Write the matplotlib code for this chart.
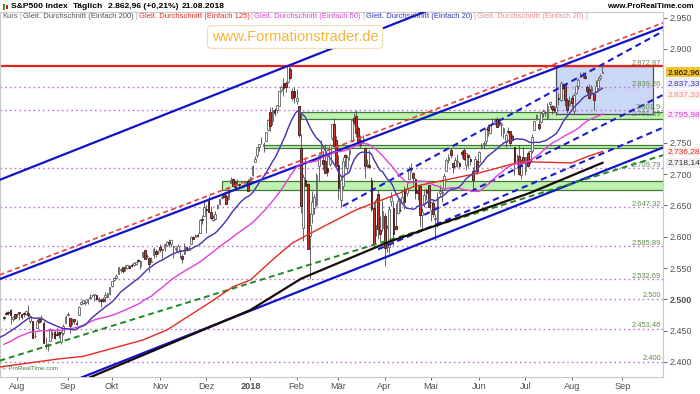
# S&P500 Tageschart mit gleitenden Durchschnitten, Trendkanälen und Zonen

import numpy as np
import pandas as pd
import matplotlib
matplotlib.use('Agg')
import matplotlib.pyplot as plt
import matplotlib.transforms as mtransforms
from matplotlib import font_manager
from matplotlib.patches import Rectangle

# ------------------------------------------------------------------
# Kursdaten (24.07.2017 - 21.08.2018), je Monat eine Zeile
# ------------------------------------------------------------------
opens = [
    2472.0, 2477.9, 2479.9, 2482.8, 2469.1, 2475.9,
    2477.1, 2480.4, 2476.0, 2476.9, 2477.1, 2478.4, 2465.4, 2465.4, 2441.0, 2454.0, 2468.7, 2468.6, 2462.0, 2427.6, 2425.5, 2433.8, 2444.9, 2447.9, 2444.7, 2447.4, 2431.9, 2446.1, 2462.7,
    2474.4, 2470.4, 2463.8, 2468.1, 2462.3, 2474.5, 2491.9, 2493.9, 2494.6, 2495.7, 2502.5, 2506.3, 2506.8, 2507.2, 2497.3, 2499.4, 2501.0, 2503.3, 2503.4, 2509.0,
    2521.2, 2530.3, 2533.5, 2540.9, 2547.4, 2551.4, 2549.9, 2550.6, 2552.9, 2555.7, 2555.6, 2557.2, 2562.9, 2553.4, 2567.6, 2578.1, 2568.7, 2566.5, 2560.1, 2570.3, 2577.8, 2575.0,
    2583.2, 2579.5, 2581.9, 2587.5, 2592.1, 2588.7, 2584.0, 2580.2, 2576.5, 2577.8, 2569.4, 2572.9, 2582.9, 2579.5, 2589.2, 2600.3, 2600.4, 2602.7, 2605.9, 2627.8, 2633.9,
    2645.1, 2657.2, 2639.8, 2626.2, 2628.4, 2646.2, 2652.2, 2661.7, 2667.6, 2665.9, 2660.6, 2685.9, 2692.7, 2688.2, 2683.0, 2684.2, 2679.1, 2682.1, 2686.1, 2689.2,
    2683.7, 2697.9, 2719.3, 2731.3, 2742.7, 2751.2, 2745.6, 2753.0, 2770.2, 2799.0, 2785.0, 2802.4, 2802.6, 2809.2, 2835.1, 2845.4, 2846.2, 2847.5, 2867.2, 2832.7, 2832.4,
    2816.5, 2808.9, 2741.1, 2614.8, 2691.0, 2685.0, 2601.8, 2636.8, 2646.3, 2651.2, 2713.5, 2727.1, 2723.0, 2720.5, 2710.4, 2715.8, 2757.4, 2780.5, 2753.8,
    2715.2, 2658.9, 2681.1, 2730.2, 2710.2, 2732.8, 2752.9, 2790.5, 2792.3, 2774.1, 2754.3, 2750.6, 2741.4, 2715.1, 2715.0, 2691.4, 2646.7, 2619.4, 2667.6, 2611.3, 2614.4,
    2633.5, 2592.2, 2584.0, 2657.4, 2645.8, 2617.2, 2638.4, 2643.0, 2653.8, 2676.9, 2670.1, 2692.7, 2710.1, 2701.2, 2692.6, 2675.4, 2680.8, 2634.9, 2651.7, 2675.5, 2682.7,
    2643.0, 2654.2, 2628.1, 2621.5, 2670.3, 2670.3, 2678.1, 2705.0, 2722.7, 2738.3, 2718.6, 2712.6, 2719.7, 2717.4, 2735.4, 2738.3, 2714.0, 2730.9, 2723.6, 2705.1, 2702.4, 2721.0,
    2718.7, 2741.7, 2748.5, 2753.3, 2774.8, 2765.8, 2780.2, 2785.6, 2787.9, 2783.2, 2777.8, 2765.8, 2752.0, 2769.7, 2769.3, 2760.8, 2742.9, 2722.1, 2728.5, 2698.7, 2727.1,
    2705.0, 2733.3, 2724.2, 2737.7, 2769.8, 2788.6, 2779.8, 2783.1, 2796.9, 2797.4, 2789.3, 2811.4, 2809.4, 2804.6, 2799.2, 2820.7, 2817.7, 2839.3, 2842.4, 2819.0, 2809.7,
    2821.2, 2800.5, 2829.6, 2840.3, 2855.9, 2856.8, 2857.2, 2838.9, 2835.5, 2827.9, 2828.0, 2831.4, 2838.3, 2853.9, 2861.5,
]
highs = [
    2473.1, 2481.2, 2481.7, 2484.0, 2473.5, 2477.0,
    2478.5, 2480.4, 2476.0, 2480.0, 2480.9, 2491.0, 2474.4, 2465.4, 2448.1, 2468.2, 2468.9, 2474.9, 2465.0, 2440.3, 2430.6, 2454.8, 2448.9, 2450.4, 2453.9, 2449.1, 2449.2, 2460.3, 2475.0,
    2480.4, 2471.9, 2469.6, 2468.6, 2467.1, 2488.9, 2496.8, 2498.4, 2498.4, 2500.2, 2508.3, 2507.8, 2508.9, 2507.2, 2503.5, 2502.5, 2503.5, 2511.8, 2510.8, 2519.4,
    2529.2, 2535.1, 2540.5, 2552.5, 2549.4, 2551.8, 2555.2, 2555.2, 2555.3, 2557.6, 2559.5, 2559.7, 2564.1, 2562.4, 2575.4, 2578.3, 2572.2, 2567.4, 2567.1, 2582.9, 2580.0, 2578.3,
    2588.4, 2581.1, 2588.4, 2593.4, 2597.0, 2595.5, 2586.5, 2583.8, 2587.7, 2579.7, 2572.8, 2590.1, 2584.0, 2584.6, 2601.2, 2600.9, 2604.2, 2606.4, 2627.7, 2634.9, 2657.7,
    2650.6, 2665.2, 2648.7, 2634.4, 2640.9, 2651.7, 2660.3, 2669.7, 2671.9, 2668.1, 2679.6, 2695.0, 2694.4, 2691.0, 2692.6, 2685.4, 2682.7, 2685.6, 2687.7, 2692.1,
    2695.9, 2714.4, 2729.3, 2743.5, 2748.5, 2759.1, 2750.8, 2767.6, 2787.9, 2807.5, 2807.0, 2805.8, 2810.3, 2833.0, 2842.2, 2853.0, 2848.6, 2872.9, 2870.6, 2837.8, 2839.3,
    2836.0, 2808.9, 2763.4, 2701.0, 2727.7, 2685.3, 2638.7, 2672.6, 2668.8, 2702.1, 2731.5, 2754.4, 2737.6, 2747.8, 2731.3, 2747.8, 2780.0, 2789.2, 2761.5,
    2730.9, 2696.3, 2728.1, 2732.1, 2730.6, 2740.5, 2786.6, 2797.0, 2801.9, 2777.1, 2763.0, 2761.9, 2741.4, 2724.2, 2739.1, 2695.7, 2657.7, 2661.4, 2674.8, 2632.7, 2659.1,
    2638.3, 2619.1, 2649.9, 2672.1, 2656.9, 2653.6, 2665.5, 2661.4, 2674.7, 2680.3, 2686.5, 2713.3, 2717.5, 2702.8, 2693.9, 2682.9, 2683.6, 2645.3, 2676.5, 2677.4, 2682.9,
    2655.3, 2660.9, 2637.1, 2670.9, 2683.4, 2676.3, 2701.3, 2726.1, 2732.9, 2742.1, 2718.6, 2727.8, 2732.0, 2719.5, 2739.2, 2742.2, 2733.3, 2732.0, 2727.4, 2710.7, 2729.3, 2722.5,
    2736.9, 2749.2, 2752.6, 2772.4, 2779.9, 2779.4, 2790.2, 2789.8, 2791.5, 2789.1, 2782.8, 2775.0, 2765.1, 2774.9, 2769.3, 2764.2, 2742.9, 2732.9, 2746.1, 2724.3, 2743.3,
    2727.3, 2736.6, 2737.8, 2764.4, 2784.7, 2795.6, 2785.9, 2799.2, 2804.5, 2801.2, 2814.2, 2816.8, 2810.5, 2809.7, 2808.6, 2830.0, 2848.0, 2845.0, 2843.2, 2821.7, 2824.5,
    2825.8, 2829.9, 2840.4, 2853.3, 2863.4, 2862.4, 2862.5, 2842.2, 2843.4, 2843.1, 2828.0, 2850.5, 2855.6, 2859.8, 2873.2,
]
lows = [
    2466.3, 2474.9, 2474.9, 2459.9, 2464.7, 2468.5,
    2471.1, 2467.0, 2468.9, 2472.1, 2475.2, 2471.4, 2462.1, 2437.8, 2437.9, 2454.0, 2461.6, 2463.9, 2430.0, 2420.7, 2417.4, 2433.7, 2437.9, 2436.2, 2442.2, 2439.0, 2428.2, 2443.8, 2462.7,
    2473.9, 2446.6, 2459.2, 2460.3, 2459.4, 2474.5, 2490.4, 2492.1, 2491.8, 2493.2, 2499.9, 2503.2, 2496.7, 2499.0, 2496.1, 2488.0, 2495.1, 2495.9, 2502.9, 2507.8,
    2520.4, 2528.9, 2531.8, 2540.0, 2543.8, 2541.6, 2544.9, 2547.9, 2548.3, 2552.1, 2552.6, 2554.7, 2559.7, 2547.9, 2567.6, 2564.3, 2565.6, 2544.0, 2559.5, 2565.9, 2568.2, 2572.2,
    2574.9, 2566.2, 2576.8, 2585.7, 2584.1, 2585.0, 2566.3, 2575.6, 2574.5, 2566.6, 2557.5, 2572.9, 2577.6, 2578.2, 2589.2, 2596.2, 2600.4, 2598.9, 2605.4, 2620.3, 2633.9,
    2605.5, 2639.0, 2627.7, 2624.8, 2626.7, 2644.1, 2651.5, 2659.8, 2662.9, 2652.0, 2659.1, 2685.9, 2680.7, 2676.1, 2682.4, 2678.1, 2678.0, 2678.9, 2682.7, 2673.6,
    2682.4, 2697.8, 2719.1, 2727.9, 2737.6, 2747.9, 2736.1, 2752.8, 2769.6, 2768.6, 2778.4, 2792.6, 2798.1, 2808.1, 2830.6, 2824.8, 2830.9, 2846.2, 2851.5, 2818.3, 2813.0,
    2812.7, 2760.0, 2638.2, 2593.1, 2681.3, 2580.6, 2532.7, 2622.5, 2637.1, 2648.9, 2689.8, 2725.1, 2706.8, 2701.3, 2697.8, 2713.7, 2753.8, 2744.2, 2713.5,
    2659.7, 2647.3, 2675.8, 2711.3, 2701.7, 2722.6, 2751.5, 2779.3, 2758.7, 2744.4, 2741.5, 2750.0, 2694.6, 2710.1, 2709.8, 2641.6, 2585.9, 2601.8, 2596.1, 2593.1, 2609.7,
    2553.8, 2575.5, 2573.6, 2649.6, 2586.3, 2610.8, 2635.8, 2639.3, 2653.8, 2645.1, 2665.2, 2692.1, 2703.6, 2681.9, 2660.6, 2658.0, 2617.3, 2612.7, 2647.2, 2659.0, 2648.0,
    2625.4, 2631.7, 2594.6, 2615.3, 2664.7, 2655.2, 2674.1, 2704.5, 2717.5, 2725.5, 2701.9, 2712.2, 2711.4, 2709.2, 2725.7, 2721.9, 2707.4, 2711.4, 2715.0, 2676.8, 2702.4, 2700.7,
    2718.7, 2740.5, 2739.5, 2748.5, 2760.2, 2763.6, 2780.2, 2778.8, 2774.7, 2776.5, 2761.7, 2757.1, 2743.2, 2763.9, 2744.4, 2752.7, 2698.7, 2715.0, 2699.0, 2692.0, 2718.0,
    2699.0, 2711.2, 2716.0, 2733.5, 2769.8, 2786.2, 2770.8, 2781.5, 2791.7, 2793.4, 2789.2, 2805.9, 2795.8, 2800.0, 2795.1, 2811.1, 2817.0, 2835.3, 2808.3, 2798.1, 2808.1,
    2805.9, 2796.3, 2827.4, 2836.0, 2855.9, 2853.1, 2852.0, 2825.8, 2819.9, 2826.6, 2802.5, 2831.4, 2833.7, 2850.6, 2861.3,
]
closes = [
    2469.9, 2477.1, 2477.8, 2475.4, 2472.1, 2470.3,
    2476.4, 2477.6, 2472.2, 2476.8, 2480.9, 2474.9, 2474.0, 2438.2, 2441.3, 2465.8, 2464.6, 2468.1, 2430.0, 2425.6, 2428.4, 2452.5, 2444.0, 2439.0, 2443.1, 2444.2, 2446.3, 2457.6, 2471.7,
    2476.6, 2457.9, 2465.5, 2465.1, 2461.4, 2488.1, 2496.5, 2498.4, 2495.6, 2500.2, 2503.9, 2506.7, 2508.2, 2500.6, 2502.2, 2496.7, 2496.8, 2507.0, 2510.1, 2519.4,
    2529.1, 2534.6, 2537.7, 2552.1, 2549.3, 2544.7, 2550.6, 2555.2, 2550.9, 2553.2, 2557.6, 2559.4, 2561.3, 2562.1, 2575.2, 2565.0, 2569.1, 2557.2, 2560.4, 2581.1, 2572.8, 2575.3,
    2579.4, 2579.9, 2587.8, 2591.1, 2590.6, 2594.4, 2584.6, 2582.3, 2584.8, 2578.9, 2564.6, 2585.6, 2578.9, 2582.1, 2599.0, 2597.1, 2602.4, 2601.4, 2627.0, 2626.1, 2647.6,
    2642.2, 2639.4, 2629.6, 2629.3, 2637.0, 2651.5, 2660.0, 2664.1, 2662.9, 2652.0, 2675.8, 2690.2, 2681.5, 2679.3, 2684.6, 2683.3, 2680.5, 2682.6, 2687.5, 2673.6,
    2695.8, 2713.1, 2724.0, 2743.2, 2747.7, 2751.3, 2748.2, 2767.6, 2786.2, 2776.4, 2802.6, 2798.0, 2810.3, 2833.0, 2839.1, 2837.5, 2839.3, 2872.9, 2853.5, 2822.4, 2823.8,
    2822.0, 2762.1, 2648.9, 2695.1, 2681.7, 2581.0, 2619.6, 2656.0, 2662.9, 2698.6, 2731.2, 2732.2, 2716.3, 2701.3, 2704.0, 2747.3, 2779.6, 2744.3, 2713.8,
    2677.7, 2691.3, 2720.9, 2728.1, 2726.8, 2739.0, 2786.6, 2783.0, 2765.3, 2749.5, 2747.3, 2752.0, 2712.9, 2716.9, 2711.9, 2643.7, 2588.3, 2658.6, 2612.6, 2605.0, 2640.9,
    2581.9, 2614.5, 2644.7, 2662.8, 2604.5, 2613.2, 2656.9, 2642.2, 2664.0, 2656.3, 2677.8, 2706.4, 2708.6, 2693.1, 2670.1, 2670.3, 2634.6, 2639.4, 2666.9, 2669.9, 2648.1,
    2654.8, 2635.7, 2629.7, 2663.4, 2672.6, 2671.9, 2697.8, 2723.1, 2727.7, 2730.1, 2711.5, 2722.5, 2720.1, 2713.0, 2733.0, 2724.4, 2733.3, 2727.8, 2721.3, 2689.9, 2724.0, 2705.3,
    2734.6, 2746.9, 2748.8, 2772.4, 2770.4, 2779.0, 2782.0, 2786.9, 2775.6, 2782.5, 2779.7, 2773.9, 2762.6, 2767.3, 2749.8, 2754.9, 2717.1, 2723.1, 2699.6, 2716.3, 2718.4,
    2726.7, 2713.2, 2736.6, 2759.8, 2784.2, 2793.8, 2774.0, 2798.3, 2801.3, 2798.4, 2809.6, 2815.6, 2804.5, 2801.8, 2807.0, 2820.4, 2846.1, 2837.4, 2818.8, 2802.6, 2816.3,
    2813.4, 2827.2, 2840.4, 2850.4, 2858.5, 2857.7, 2853.6, 2833.3, 2821.9, 2840.0, 2818.4, 2840.7, 2850.1, 2857.1, 2862.96,
]
# Schlusskurse vor dem sichtbaren Bereich (12.05. - 21.07.2017), nur für SMA 20/50
early_closes = [
    2390.9, 2402.3, 2400.7, 2357.0, 2365.7, 2381.7, 2394.0, 2398.4, 2404.4, 2415.1, 2415.8, 2412.9, 2411.8,
    2430.1, 2439.1, 2436.1, 2429.3, 2433.1, 2433.8, 2431.8, 2429.4, 2440.4, 2437.9, 2432.5, 2433.2, 2453.5,
    2437.0, 2435.6, 2434.5, 2438.3, 2439.1, 2419.4, 2440.7, 2419.7, 2423.4,
    2429.0, 2432.5, 2409.8, 2425.2, 2427.4, 2425.5, 2443.3, 2447.8, 2459.3, 2459.1, 2460.6, 2473.8, 2473.5, 2472.5,
]

# SMA 125 / 200 (Handelstag-Index, Wert)
sma125_x = [-2, 25, 36, 63, 74, 94, 104, 112, 122, 131, 145, 160, 180, 186, 216, 235, 258, 265, 272]
sma125_y = [2392, 2405, 2409, 2435, 2451, 2496, 2520, 2531, 2563, 2590, 2616, 2643, 2670, 2680, 2702, 2720, 2718, 2728, 2736.28]
sma200_x = [-2, 34, 112, 135, 139, 175, 239, 272]
sma200_y = [2314, 2368, 2483, 2533, 2539, 2592, 2670, 2718.14]

# Wertmarken am rechten Rand (Kurs, SMA20, SMA20, SMA50, SMA125, SMA200)
tag_texts = ['2.862,96', '2.837,33', '2.837,33', '2.795,98', '2.736,28', '2.718,14']

# Handelskalender
holidays = ['2017-09-04', '2017-11-23', '2017-12-25', '2018-01-01', '2018-01-15', '2018-02-19',
            '2018-03-30', '2018-05-28', '2018-07-04', '2018-09-03']
month_names = ['Jan', 'Feb', 'Mär', 'Apr', 'Mai', 'Jun', 'Jul', 'Aug', 'Sep', 'Okt', 'Nov', 'Dez']

# Horizontale Marken (gepunktet) und Beschriftungen
levels = [2839.26, 2801.9, 2709.79, 2647.32, 2585.89, 2532.69, 2500, 2453.46, 2400]
level_texts = ['2.839,26', '2.801,9', '2.709,79', '2.647,32', '2.585,89', '2.532,69', '2.500', '2.453,46', '2.400']
resistance = 2872.87
zone_mark = 2791.89

# Grüne Zonen (Start-Index, unten, oben)
zone_start = [135, 118, 99]
zone_lo = [2788.0, 2742.0, 2675.0]
zone_hi = [2800.0, 2746.0, 2689.0]

# Blaue Box (Jul/Aug 2018)
box_x = [251, 295]
box_y = [2796.5, 2872.87]

# Trendlinien: (x0, y0, x1, y1)
trend_solid = [
    (-2, 2690.8, 205, 2978.5),
    (-2, 2532.3, 302, 2938.0),
    (-2, 2323.5, 302, 2746.0),
]
trend_red_dash = (-2, 2539.0, 302, 2945.0)
trend_green_dash = (-2, 2402.0, 302, 2733.0)
trend_blue_dash = [
    (154, 2649.0, 302, 2933.0),
    (191, 2635.0, 302, 2831.0),
    (170, 2580.0, 302, 2778.0),
]

# ------------------------------------------------------------------
# Aufbereitung
# ------------------------------------------------------------------
n = len(closes)
assert len(opens) == len(highs) == len(lows) == n
days = pd.bdate_range('2017-07-24', '2018-09-28')
days = days[~days.isin(pd.to_datetime(holidays))]
idx = np.arange(n)

all_closes = pd.Series(early_closes + closes, index=np.arange(-len(early_closes), n))
sma20 = all_closes.rolling(20).mean()
sma50 = all_closes.rolling(50).mean()

o = np.array(opens)
h = np.array(highs)
l = np.array(lows)
c = np.array(closes)

W, H = 700, 394
fonts = {f.name for f in font_manager.fontManager.ttflist}
narrow = 'Liberation Sans Narrow' if 'Liberation Sans Narrow' in fonts else 'Liberation Sans'

# ------------------------------------------------------------------
# Figur
# ------------------------------------------------------------------
plt.rcParams['font.family'] = ['Liberation Sans', 'DejaVu Sans']
fig = plt.figure(figsize=(7, 3.94), dpi=100)
ax = fig.add_axes([0.0, (H - 377) / H, 663 / W, (377 - 12) / H])
ax.set_xlim(-1.8, 299.5)
ax.set_ylim(2900 - (377 - 49) / 0.626, 2959.0)
renderer = fig.canvas.get_renderer()

# Zonen und Box
for x0, lo, hi in zip(zone_start, zone_lo, zone_hi):
    ax.add_patch(Rectangle((x0, lo), 302 - x0, hi - lo, facecolor='#bff2b0', edgecolor='#3d7a35',
                           linewidth=0.9, zorder=1))
ax.add_patch(Rectangle((box_x[0], box_y[0]), box_x[1] - box_x[0], box_y[1] - box_y[0],
                       facecolor='#cad8f6', edgecolor='#505050', linewidth=0.9, zorder=1))

# gepunktete Marken
for v in levels:
    ax.axhline(v, color='#b77bd6', linewidth=1.0, linestyle=(0, (1.2, 2.2)), zorder=2)
ax.axhline(resistance, color='#e3231c', linewidth=1.6, zorder=2)

# Trendlinien
for x0, y0, x1, y1 in trend_solid:
    ax.plot([x0, x1], [y0, y1], color='#1212c8', linewidth=1.6, zorder=4)
x0, y0, x1, y1 = trend_red_dash
ax.plot([x0, x1], [y0, y1], color='#e8403a', linewidth=1.2, linestyle=(0, (3, 2)), zorder=4)
x0, y0, x1, y1 = trend_green_dash
ax.plot([x0, x1], [y0, y1], color='#1f8a1f', linewidth=1.4, linestyle=(0, (3, 2)), zorder=4)
for x0, y0, x1, y1 in trend_blue_dash:
    ax.plot([x0, x1], [y0, y1], color='#1a1ad0', linewidth=1.5, linestyle=(0, (3, 2)), zorder=4)

# Kerzen
up = c >= o
ax.vlines(idx, l, h, color='#4a4a4a', linewidth=0.6, zorder=3)
body_lo = np.minimum(o, c)
body_h = np.maximum(np.abs(c - o), 0.8)
ax.bar(idx[up], body_h[up], bottom=body_lo[up], width=0.8, color='white', edgecolor='#606060',
       linewidth=0.6, zorder=3.5)
ax.bar(idx[~up], body_h[~up], bottom=body_lo[~up], width=0.8, color='#c8342c', edgecolor='#401614',
       linewidth=0.6, zorder=3.5)

# Gleitende Durchschnitte
ax.plot(sma125_x, sma125_y, color='#e52a22', linewidth=1.0, zorder=5)
ax.plot(sma200_x, sma200_y, color='#1a0a08', linewidth=1.6, zorder=5)
ax.plot(sma50.index, sma50.values, color='#e23fd8', linewidth=1.0, zorder=5)
ax.plot(sma20.index, sma20.values, color='#f08c8c', linewidth=0.9, zorder=5)
ax.plot(sma20.index, sma20.values, color='#3535c0', linewidth=0.9, zorder=5.1)

# Achsen
for sp in ax.spines.values():
    sp.set_color('#c8c8c8')
    sp.set_linewidth(0.8)
ax.yaxis.tick_right()
yt = [2400, 2450, 2500, 2550, 2600, 2650, 2700, 2750, 2900, 2950]
ax.set_yticks(yt, ['{:,}'.format(v).replace(',', '.') for v in yt])
for lab, v in zip(ax.get_yticklabels(), yt):
    if v == 2500:
        lab.set_fontweight('bold')
        lab.set_color('black')
ax.tick_params(axis='y', labelsize=6.4, colors='#505050', length=3, pad=1.5, width=0.6)

month_idx, month_lab = [], []
for i, d in enumerate(days):
    if i == 0 or d.month != days[i - 1].month:
        if d.month == 7 and d.year == 2017:
            continue
        month_idx.append(i)
        month_lab.append('2018' if (d.month == 1) else month_names[d.month - 1])
ax.set_xticks(month_idx, month_lab)
for lab in ax.get_xticklabels():
    if lab.get_text() == '2018':
        lab.set_fontweight('bold')
        lab.set_color('black')
ax.tick_params(axis='x', labelsize=6.6, colors='#505050', length=2, pad=1.5, width=0.6)

# Beschriftungen der Marken
trans = mtransforms.blended_transform_factory(ax.transAxes, ax.transData)
lab_x = 661 / 663
ax.text(lab_x, resistance, '2.872,87', transform=trans, ha='right', va='bottom', fontsize=5.4,
        color='#5f8a4a', zorder=6)
for v, s in zip(levels, level_texts):
    ax.text(lab_x, v, s, transform=trans, ha='right', va='bottom', fontsize=5.4, color='#5f8a4a', zorder=6)
ax.text(lab_x, zone_mark, '2.791,89', transform=trans, ha='right', va='bottom', fontsize=5.4,
        color='#5f8a4a', zorder=6)

# Wertmarken rechts
last_vals = [closes[-1], sma20.iloc[-1], sma20.iloc[-1], sma50.iloc[-1], sma125_y[-1], sma200_y[-1]]
tag_style = [('#000000', '#f2c230', 0), ('#3535c0', '#eeeefc', 3.6), ('#f08c8c', '#fdf3f3', -4.3),
             ('#d23cc8', '#fbeefb', 0), ('#e52a22', '#fbf1f1', 0), ('#333333', '#f0f0f0', 0)]
for v, s, (fc, bg, dy) in zip(last_vals, tag_texts, tag_style):
    ax.annotate(s, xy=(1.0, v), xycoords=trans, xytext=(3.0, dy), textcoords='offset points',
                ha='left', va='center', fontsize=6.0, color=fc, annotation_clip=False,
                bbox=dict(boxstyle='square,pad=0.15', facecolor=bg, edgecolor='none'))


def fit_text(x_px, y_px, s, w_px, ha='left', **kw):
    t = fig.text(x_px / W, 1 - y_px / H, s, fontsize=10, va='center', ha=ha, **kw)
    w = t.get_window_extent(renderer).width
    t.set_fontsize(10 * w_px / w)
    return t


# Kopfzeile
head = fit_text(11, 6, 'S&P500 Index', 56, fontweight='bold')
hs = head.get_fontsize()
for x_px, s in [(73, 'Täglich'), (108, '2.862,96 (+0,21%)'), (182, '21.08.2018')]:
    fig.text(x_px / W, 1 - 6 / H, s, fontsize=hs, fontweight='bold', va='center')
fit_text(694, 6, 'www.ProRealTime.com', 86, ha='right', fontweight='bold')
fig.patches.append(Rectangle((3 / W, 1 - 10 / H), 2 / W, 6 / H, transform=fig.transFigure,
                             facecolor='#2aa02a', edgecolor='none'))
fig.patches.append(Rectangle((6 / W, 1 - 9 / H), 2 / W, 4 / H, transform=fig.transFigure,
                             facecolor='#d02020', edgecolor='none'))

# Legendenzeile
pieces = [('Kurs', '#606060'), ('|', '#a0a0a0'), ('Gleit. Durchschnitt (Einfach 200)', '#505050'), ('|', '#a0a0a0'),
          ('Gleit. Durchschnitt (Einfach 125)', '#e52a22'), ('|', '#a0a0a0'),
          ('Gleit. Durchschnitt (Einfach 50)', '#e23fd8'), ('|', '#a0a0a0'),
          ('Gleit. Durchschnitt (Einfach 20)', '#3535c0'), ('|', '#a0a0a0'),
          ('Gleit. Durchschnitt (Einfach 20)', '#f08c8c'), ('|', '#a0a0a0')]
gap = 1.5
widths = []
for s, col in pieces:
    t = fig.text(0, 0, s, fontsize=10, family=narrow)
    widths.append(t.get_window_extent(renderer).width)
    t.remove()
k = (587 - 2 - gap * (len(pieces) - 1)) / sum(widths)
xpos = 2.0
for (s, col), w in zip(pieces, widths):
    fig.text(xpos / W, 1 - 16 / H, s, fontsize=10 * k, color=col, va='center', family=narrow)
    xpos += w * k + gap

# Wasserzeichen / Copyright
fig.text(295 / W, 1 - 37 / H, 'www.Formationstrader.de', ha='center', va='center', fontsize=10.5,
         color='#f5b53c', bbox=dict(boxstyle='round,pad=0.3', facecolor='white', edgecolor='#f3dcb0', linewidth=0.8))
fig.text(2 / W, 1 - 368 / H, '© ProRealTime.com', fontsize=4.5, color='#4a7a3a', va='center')

fig.savefig('out.png', dpi=100)
plt.close()
